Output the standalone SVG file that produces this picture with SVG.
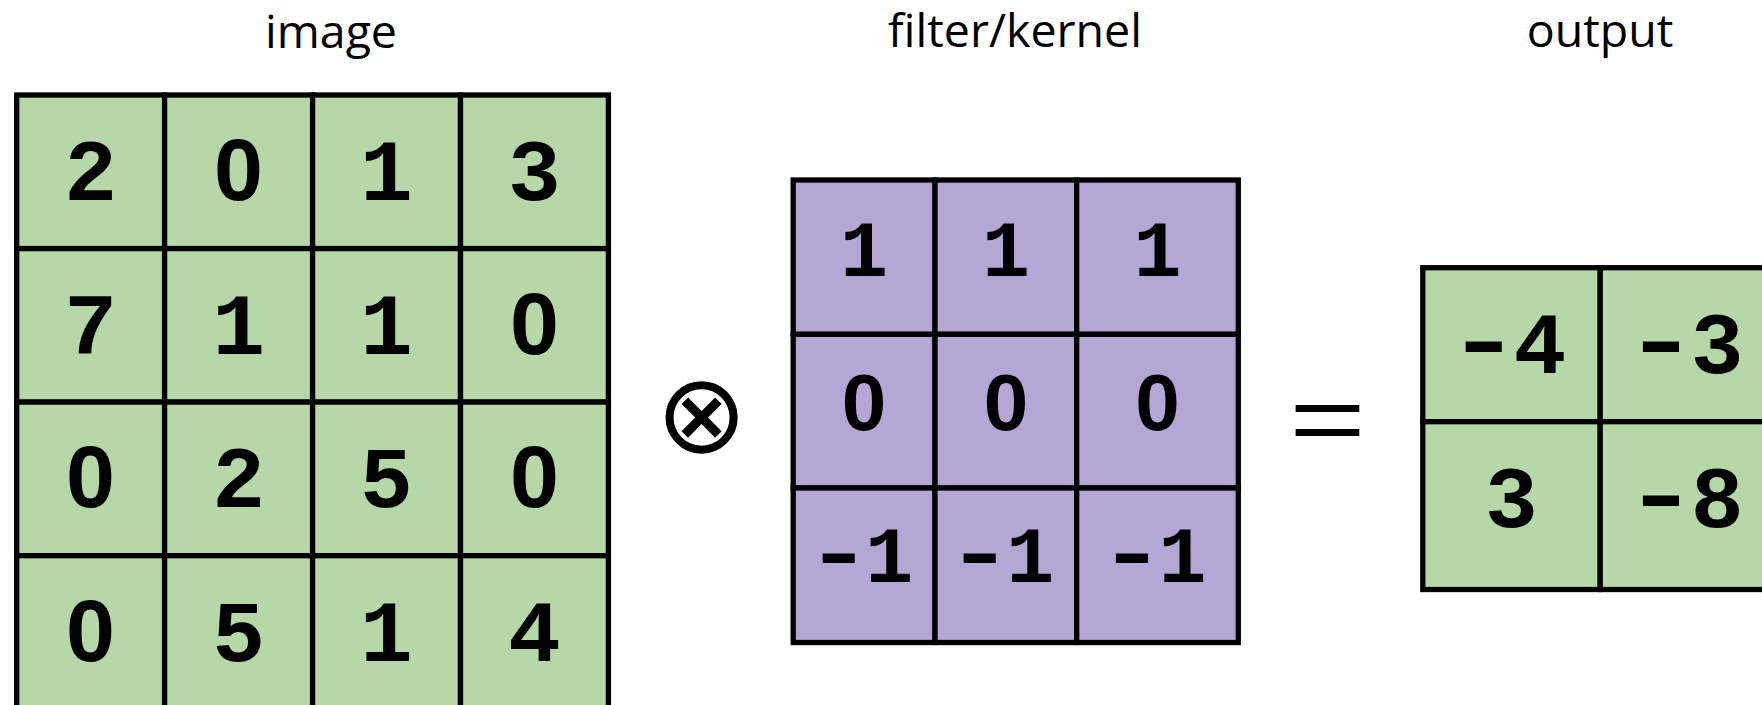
<svg xmlns="http://www.w3.org/2000/svg" width="1762" height="705" viewBox="0 0 1762 705">
  <style>
    .label { font-family: "Open Sans", "Noto Sans", sans-serif; font-size: 46.5px; fill: #000; text-anchor: middle; }
    .cell-g { fill: #b6d7a8; stroke: #000; stroke-width: 5.3; }
    .cell-p { fill: #b4a7d6; stroke: #000; stroke-width: 5.3; }
    .num { font-family: "Liberation Mono", "DejaVu Sans Mono", monospace; font-weight: bold; fill: #000; text-anchor: middle; }
    .num .z { font-family: "Liberation Sans", Arial, sans-serif; }
    .num .neg { text-anchor: start; }
    .big { font-size: 88px; }
    .small { font-size: 80px; }
    .op { font-family: "DejaVu Sans", sans-serif; fill: #000; text-anchor: middle; }
  </style>

  <rect width="1762" height="705" fill="#fff"/>

  <!-- titles -->
  <text class="label" x="331" y="48">image</text>
  <text class="label" x="1015" y="47">filter/kernel</text>
  <text class="label" x="1600" y="47">output</text>

  <!-- 4x4 input matrix -->
  <g id="image">
    <rect class="cell-g" x="16.7" y="95" width="147.9" height="153.6"/>
    <rect class="cell-g" x="164.6" y="95" width="148" height="153.6"/>
    <rect class="cell-g" x="312.6" y="95" width="147.9" height="153.6"/>
    <rect class="cell-g" x="460.5" y="95" width="147.9" height="153.6"/>
    <rect class="cell-g" x="16.7" y="248.6" width="147.9" height="153.5"/>
    <rect class="cell-g" x="164.6" y="248.6" width="148" height="153.5"/>
    <rect class="cell-g" x="312.6" y="248.6" width="147.9" height="153.5"/>
    <rect class="cell-g" x="460.5" y="248.6" width="147.9" height="153.5"/>
    <rect class="cell-g" x="16.7" y="402.1" width="147.9" height="153.6"/>
    <rect class="cell-g" x="164.6" y="402.1" width="148" height="153.6"/>
    <rect class="cell-g" x="312.6" y="402.1" width="147.9" height="153.6"/>
    <rect class="cell-g" x="460.5" y="402.1" width="147.9" height="153.6"/>
    <rect class="cell-g" x="16.7" y="555.7" width="147.9" height="153.6"/>
    <rect class="cell-g" x="164.6" y="555.7" width="148" height="153.6"/>
    <rect class="cell-g" x="312.6" y="555.7" width="147.9" height="153.6"/>
    <rect class="cell-g" x="460.5" y="555.7" width="147.9" height="153.6"/>
    <g class="num big">
      <text x="90.6" y="200">2</text><text class="z" x="238.6" y="200">0</text><text x="386.5" y="200">1</text><text x="534.4" y="200">3</text>
      <text x="90.6" y="353.6">7</text><text x="238.6" y="353.6">1</text><text x="386.5" y="353.6">1</text><text class="z" x="534.4" y="353.6">0</text>
      <text class="z" x="90.6" y="507.2">0</text><text x="238.6" y="507.2">2</text><text x="386.5" y="507.2">5</text><text class="z" x="534.4" y="507.2">0</text>
      <text class="z" x="90.6" y="660.8">0</text><text x="238.6" y="660.8">5</text><text x="386.5" y="660.8">1</text><text x="534.4" y="660.8">4</text>
    </g>
  </g>

  <!-- convolution operator -->
  <g id="op-conv">
    <text class="op" x="701.6" y="452" font-size="110">⊗</text>
  </g>

  <!-- 3x3 kernel -->
  <g id="kernel">
    <rect class="cell-p" x="793.2" y="180" width="141.8" height="154.3"/>
    <rect class="cell-p" x="935" y="180" width="141.7" height="154.3"/>
    <rect class="cell-p" x="1076.7" y="180" width="161.6" height="154.3"/>
    <rect class="cell-p" x="793.2" y="334.3" width="141.8" height="153.7"/>
    <rect class="cell-p" x="935" y="334.3" width="141.7" height="153.7"/>
    <rect class="cell-p" x="1076.7" y="334.3" width="161.6" height="153.7"/>
    <rect class="cell-p" x="793.2" y="488" width="141.8" height="154.5"/>
    <rect class="cell-p" x="935" y="488" width="141.7" height="154.5"/>
    <rect class="cell-p" x="1076.7" y="488" width="161.6" height="154.5"/>
    <g class="num small">
      <text x="864.1" y="276">1</text><text x="1005.9" y="276">1</text><text x="1157.5" y="276">1</text>
      <text class="z" x="864.1" y="429.5">0</text><text class="z" x="1005.9" y="429.5">0</text><text class="z" x="1157.5" y="429.5">0</text>
      <!-- negative entries: the minus is widened to a full-width bar -->
      <text class="neg" x="804.7" y="582"><tspan dy="-3" textLength="68" lengthAdjust="spacingAndGlyphs">-</tspan><tspan dx="-7.5" dy="3">1</tspan></text>
      <text class="neg" x="945.7" y="582"><tspan dy="-3" textLength="68" lengthAdjust="spacingAndGlyphs">-</tspan><tspan dx="-7.5" dy="3">1</tspan></text>
      <text class="neg" x="1098" y="582"><tspan dy="-3" textLength="68" lengthAdjust="spacingAndGlyphs">-</tspan><tspan dx="-7.5" dy="3">1</tspan></text>
    </g>
  </g>

  <!-- equals sign -->
  <g id="op-eq">
    <text x="0" y="0" font-family="Liberation Sans, sans-serif" font-size="97" text-anchor="middle" transform="translate(1327.5 451.6) scale(1.35 1)">=</text>
  </g>

  <!-- 2x2 result -->
  <g id="output">
    <rect class="cell-g" x="1422.8" y="267.7" width="177.4" height="154"/>
    <rect class="cell-g" x="1600.2" y="267.7" width="177.4" height="154"/>
    <rect class="cell-g" x="1422.8" y="421.7" width="177.4" height="167.8"/>
    <rect class="cell-g" x="1600.2" y="421.7" width="177.4" height="167.8"/>
    <g class="num big">
      <text class="neg" x="1445.4" y="372.5"><tspan dy="-4" textLength="76.5" lengthAdjust="spacingAndGlyphs">-</tspan><tspan dx="-8.5" dy="4">4</tspan></text>
      <text class="neg" x="1622.7" y="372.5"><tspan dy="-4" textLength="76.5" lengthAdjust="spacingAndGlyphs">-</tspan><tspan dx="-8.5" dy="4">3</tspan></text>
      <text x="1511.5" y="527">3</text>
      <text class="neg" x="1622.7" y="527"><tspan dy="-4" textLength="76.5" lengthAdjust="spacingAndGlyphs">-</tspan><tspan dx="-8.5" dy="4">8</tspan></text>
    </g>
  </g>

  <!-- no connectors in this figure -->
  <g id="connectors"/>
</svg>
